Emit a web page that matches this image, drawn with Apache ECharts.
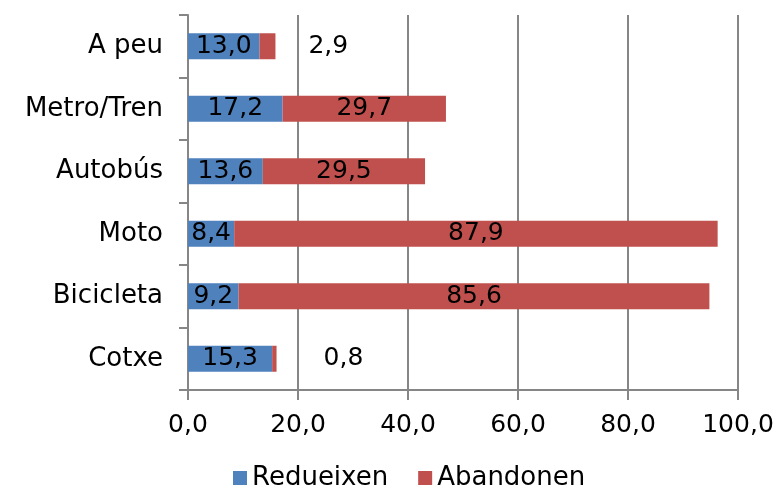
<!DOCTYPE html>
<html><head><meta charset="utf-8">
<script src="https://cdn.jsdelivr.net/npm/echarts@6/dist/echarts.min.js"></script>
<style>html,body{margin:0;padding:0;background:#fff}#c{width:778px;height:488px}</style>
</head><body><div id="c"></div>
<script>
const categories = ['Cotxe', 'Bicicleta', 'Moto', 'Autobús', 'Metro/Tren', 'A peu'];
const redueixen = [15.3, 9.2, 8.4, 13.6, 17.2, 13.0];
const abandonen = [0.8, 85.6, 87.9, 29.5, 29.7, 2.9];
const xTicks = [0, 20, 40, 60, 80, 100];

const FONT = 'DejaVu Sans';
const fmt = v => v.toFixed(1).replace('.', ',');
const outsideDist = {0: 47, 5: 33};

const chart = echarts.init(document.getElementById('c'));
chart.setOption({
  animation: false,
  textStyle: {fontFamily: FONT},
  grid: {left: 188, right: 40, top: 15, bottom: 98, containLabel: false},
  legend: {
    top: 460, left: 228, itemWidth: 14, itemHeight: 14, itemGap: 30,
    icon: 'rect',
    textStyle: {fontFamily: FONT, fontSize: 26, color: '#000'},
    data: ['Redueixen', 'Abandonen']
  },
  xAxis: {
    type: 'value', min: xTicks[0], max: xTicks[xTicks.length - 1], interval: 20,
    axisLine: {show: true, lineStyle: {color: '#868686', width: 2}},
    axisTick: {show: true, length: 10, lineStyle: {color: '#868686', width: 2}},
    splitLine: {show: true, lineStyle: {color: '#868686', width: 2}},
    axisLabel: {fontFamily: FONT, fontSize: 25, color: '#000', margin: 23, formatter: v => fmt(v)}
  },
  yAxis: {
    type: 'category', data: categories,
    axisLine: {show: true, lineStyle: {color: '#868686', width: 2}},
    axisTick: {show: true, length: 9, lineStyle: {color: '#868686', width: 2}},
    axisLabel: {fontFamily: FONT, fontSize: 26, color: '#000', margin: 25}
  },
  series: [
    {
      name: 'Redueixen', type: 'bar', stack: 's', barWidth: 26,
      itemStyle: {color: '#4F81BD'},
      label: {show: true, position: 'inside', color: '#000', fontFamily: FONT, fontSize: 25, formatter: p => fmt(p.value)},
      data: redueixen
    },
    {
      name: 'Abandonen', type: 'bar', stack: 's', barWidth: 26,
      itemStyle: {color: '#C0504D'},
      label: {show: true, position: 'inside', color: '#000', fontFamily: FONT, fontSize: 25, formatter: p => fmt(p.value)},
      data: abandonen.map((v, i) => outsideDist[i] !== undefined
        ? {value: v, label: {position: 'right', distance: outsideDist[i]}}
        : v)
    }
  ]
});
</script></body></html>
